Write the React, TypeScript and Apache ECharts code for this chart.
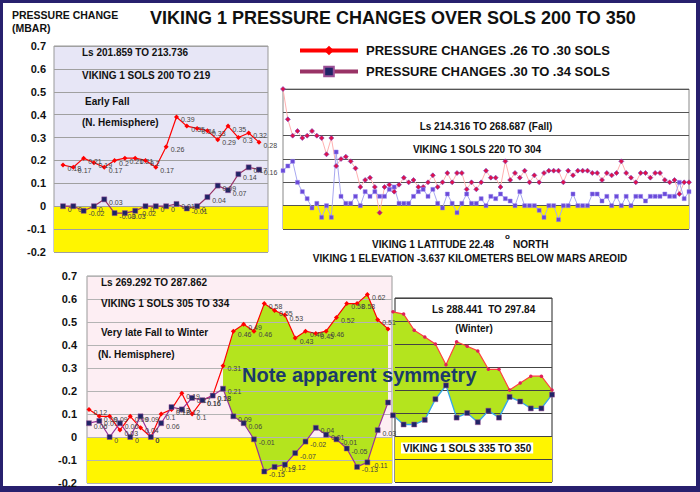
import React, { useEffect, useRef } from 'react';
import * as echarts from 'echarts';

const FONT = "'Liberation Sans', Arial, sans-serif";
const NAME_A = 'PRESSURE CHANGES .26 TO .30 SOLS';
const NAME_B = 'PRESSURE CHANGES .30 TO .34 SOLS';

const sols = (a: number, b: number) => Array.from({ length: b - a + 1 }, (_, i) => String(a + i));

// sols 200-219
const p1Sols = sols(200, 219);
const p1Early = [0.18, 0.17, 0.21, 0.19, 0.17, 0.2, 0.21, 0.21, 0.2, 0.17, 0.26, 0.39, 0.35, 0.34, 0.33, 0.29, 0.35, 0.3, 0.32, 0.28];
const p1Late = [0, 0, -0.02, 0, 0.03, -0.03, -0.03, -0.02, 0, 0, 0, 0.01, -0.01, 0, 0.04, 0.09, 0.07, 0.14, 0.17, 0.16];

// sols 220-304
const p2Sols = sols(220, 304);
const p2Early = [
  0.5, 0.37, 0.3, 0.32, 0.29, 0.3, 0.32, 0.3, 0.29, 0.22,
  0.29, 0.17, 0.2, 0.21, 0.19, 0.16, 0.08, 0.11, 0.12, 0.08,
  -0.03, 0.08, 0.09, 0.06, 0.09, 0.12, 0.1, 0.11, 0.08, 0.08,
  0.1, 0.13, 0.08, 0.1, 0.14, 0.1, 0.14, 0.14, 0.07, 0.1,
  0.07, 0.1, 0.15, 0.12, 0.12, 0.08, 0.19, 0.11, 0.14, 0.12,
  0.15, 0.1, 0.13, 0.1, 0.14, 0.15, 0.15, 0.15, 0.1, 0.15,
  0.13, 0.15, 0.15, 0.15, 0.14, 0.14, 0.11, 0.14, 0.13, 0.14,
  0.19, 0.14, 0.12, 0.1, 0.14, 0.14, 0.12, 0.14, 0.14, 0.11,
  0.1, 0.11, 0.05, 0.1, 0.1,
];
const p2Late = [
  0.15, 0.17, 0.19, 0.1, 0.06, 0.03, -0.01, 0.01, -0.05, 0,
  -0.05, 0.23, 0.04, 0.01, 0.01, 0.04, 0, 0.06, 0.04, 0.06,
  0.04, 0.04, 0.07, 0.08, 0.01, 0.01, 0.01, 0.04, 0.06, 0.07,
  0.04, 0.07, 0.01, -0.01, 0.05, 0.01, -0.03, 0.01, 0.05, 0.01,
  0.01, 0.03, 0, 0.04, 0.03, 0.05, 0.03, 0.02, 0, 0.06,
  0, 0, 0, -0.02, -0.05, 0, 0, -0.06, 0, 0,
  0.05, 0, 0, 0, 0.05, 0.05, 0.02, 0.04, 0, 0.04,
  0, 0.04, 0, 0.04, 0.04, 0.02, 0.04, 0.04, 0.04, 0.05,
  0.04, 0.04, 0.1, 0.03, 0.06,
];

// sols 305-334
const p3Sols = sols(305, 334);
const p3Early = [0.12, 0.09, 0.09, 0.03, 0.09, 0.04, 0, 0.1, 0.12, 0.19, 0.1, 0.16, 0.18, 0.31, 0.46, 0.49, 0.46, 0.58, 0.55, 0.53, 0.43, 0.46, 0.45, 0.46, 0.52, 0.58, 0.58, 0.62, 0.51, 0.47];
const p3Late = [0.06, 0.07, 0, 0.06, 0, 0.09, 0, 0.06, 0.13, 0.12, 0.17, 0.16, 0.18, 0.21, 0.09, 0.06, -0.01, -0.15, -0.13, -0.12, -0.07, -0.02, 0.04, 0.01, -0.01, -0.05, -0.13, -0.11, 0.03, 0.15];
const p3FillFrom = 13;

// sols 335-350
const p4Sols = sols(335, 350);
const p4Early = [0.54, 0.53, 0.46, 0.43, 0.4, 0.31, 0.41, 0.39, 0.37, 0.29, 0.29, 0.2, 0.23, 0.26, 0.26, 0.2];
const p4Late = [0.09, 0.05, 0.05, 0.07, 0.16, 0.22, 0.08, 0.1, 0.06, 0.11, 0.08, 0.17, 0.15, 0.12, 0.12, 0.18];

const YELLOW = '#fff500';
const GREEN = '#b4e41e';

const bgGrid = (left: number, top: number, width: number, height: number, bg: string, border: string) => ({
  left, top, width, height, show: true, backgroundColor: bg, borderColor: border, borderWidth: 1, outerBoundsMode: 'none',
});
const dataGrid = (left: number, top: number, width: number, height: number) => ({
  left, top, width, height, show: false, outerBoundsMode: 'none',
});

const bgX = (gridIndex: number) => ({ type: 'value', gridIndex, min: 0, max: 1, show: false });
const bgY = (gridIndex: number, min: number, max: number, labels: boolean, split: string, margin = 8) => ({
  type: 'value', gridIndex, min, max, interval: 0.1, z: 3,
  axisLine: { show: false }, axisTick: { show: false },
  axisLabel: { show: labels, margin, fontFamily: FONT, fontSize: 11, fontWeight: 'bold', color: '#111' },
  splitLine: { show: true, lineStyle: { color: split, width: 1 } },
});
const dX = (gridIndex: number, data: string[]) => ({ type: 'category', gridIndex, data, boundaryGap: false, show: false });
const dY = (gridIndex: number, min: number, max: number) => ({ type: 'value', gridIndex, min, max, show: false, splitLine: { show: false } });

const yellowZone = (axis: number, min: number) => ({
  type: 'line', xAxisIndex: axis, yAxisIndex: axis, data: [], z: 1, silent: true,
  markArea: { silent: true, itemStyle: { color: YELLOW }, data: [[{ yAxis: min }, { yAxis: 0 }]] },
});

const smallLabel = (hideLast = 0) => ({
  show: true, position: 'right', distance: 2, offset: [0, 3], fontFamily: FONT, fontSize: 7, color: '#444',
  formatter: (p: any) => (hideLast && p.dataIndex === hideLast ? '' : String(p.value)),
});

const fillPair = (axis: number, hi: number[], lo: number[], from: number, key: string) => [
  {
    type: 'line', name: key + 'base', xAxisIndex: axis, yAxisIndex: axis, stack: key, stackStrategy: 'all', z: 2,
    data: lo.map((v, i) => (i < from ? null : v)), symbol: 'none', lineStyle: { opacity: 0 }, silent: true,
  },
  {
    type: 'line', name: key + 'fill', xAxisIndex: axis, yAxisIndex: axis, stack: key, stackStrategy: 'all', z: 2,
    data: hi.map((v, i) => (i < from ? null : +(v - lo[i]).toFixed(3))), symbol: 'none',
    lineStyle: { opacity: 0 }, areaStyle: { color: GREEN, opacity: 1 }, silent: true,
  },
];

const txt = (text: string, x: number, y: number, size = 10, extra: any = {}) => ({
  type: 'text', x, y, z: 100, silent: true,
  style: { text, fontFamily: FONT, fontSize: size, fontWeight: 'bold', fill: '#111', align: 'left', verticalAlign: 'middle', ...extra },
});

const App: React.FC = () => {
  const ref = useRef<HTMLDivElement>(null);

  useEffect(() => {
    if (!ref.current) return;
    const chart = echarts.init(ref.current, undefined, { renderer: 'svg' });
    const option = {
      animation: false,
      legend: {
        data: [NAME_A, NAME_B], orient: 'vertical', left: 293, top: 39, itemWidth: 58, itemHeight: 12, itemGap: 8,
        selectedMode: false, lineStyle: { width: 4 },
        textStyle: { fontFamily: FONT, fontSize: 13, fontWeight: 'bold', color: '#111', padding: [0, 0, 0, 3] },
      },
      grid: [
        bgGrid(54, 46, 214, 206, '#e7e6f6', '#999'),
        dataGrid(63, 46, 196, 206),
        bgGrid(283, 89, 406, 140, '#ffffff', '#888'),
        dataGrid(283, 89, 406, 140),
        bgGrid(87, 276, 305, 207, '#fdeef3', '#999'),
        dataGrid(89, 276, 299, 207),
        bgGrid(395, 298, 157, 184, '#ffffff', '#222'),
        dataGrid(393, 298, 159, 184),
      ],
      xAxis: [bgX(0), dX(1, p1Sols), bgX(2), dX(3, p2Sols), bgX(4), dX(5, p3Sols), bgX(6), dX(7, p4Sols)],
      yAxis: [
        bgY(0, -0.2, 0.7, true, '#a0a0a0'), dY(1, -0.2, 0.7),
        bgY(2, -0.1, 0.5, false, '#555'), dY(3, -0.1, 0.5),
        bgY(4, -0.2, 0.7, true, '#b4b4b4', 10), dY(5, -0.2, 0.7),
        bgY(6, -0.2, 0.6, false, '#444'), dY(7, -0.2, 0.6),
      ],
      series: [
        // panel 1
        yellowZone(0, -0.2),
        {
          type: 'line', name: NAME_A, xAxisIndex: 1, yAxisIndex: 1, data: p1Early, z: 5, showAllSymbol: true,
          symbol: 'diamond', symbolSize: 5, itemStyle: { color: '#ff0000' }, lineStyle: { color: '#ff0000', width: 1.2 }, label: smallLabel(),
        },
        {
          type: 'line', name: NAME_B, xAxisIndex: 1, yAxisIndex: 1, data: p1Late, z: 5, showAllSymbol: true,
          symbol: 'rect', symbolSize: 5, itemStyle: { color: '#1f2466', borderColor: '#9b4f96', borderWidth: 0.5 },
          lineStyle: { color: '#993366', width: 1.2 }, label: smallLabel(),
        },
        // panel 2
        yellowZone(2, -0.1),
        {
          type: 'line', name: NAME_A, xAxisIndex: 3, yAxisIndex: 3, data: p2Early, z: 5, showAllSymbol: true,
          symbol: 'diamond', symbolSize: 5, itemStyle: { color: '#e0104a', borderColor: '#7040c0', borderWidth: 0.6 },
          lineStyle: { color: '#ffb0b0', width: 1 },
        },
        {
          type: 'line', name: NAME_B, xAxisIndex: 3, yAxisIndex: 3, data: p2Late, z: 5, showAllSymbol: true,
          symbol: 'rect', symbolSize: 4, itemStyle: { color: '#6a4ad8', borderColor: '#9a88f0', borderWidth: 0.5 },
          lineStyle: { color: '#a8a8f0', width: 1 },
        },
        // panel 3
        yellowZone(4, -0.2),
        ...fillPair(5, p3Early, p3Late, p3FillFrom, 'p3'),
        {
          type: 'line', name: NAME_A, xAxisIndex: 5, yAxisIndex: 5, data: p3Early, z: 5, showAllSymbol: true,
          symbol: 'diamond', symbolSize: 5, itemStyle: { color: '#ff0000' }, lineStyle: { color: '#ff0000', width: 1.2 },
          label: smallLabel(p3Early.length - 1),
        },
        {
          type: 'line', name: NAME_B, xAxisIndex: 5, yAxisIndex: 5, data: p3Late, z: 5, showAllSymbol: true,
          symbol: 'rect', symbolSize: 5, itemStyle: { color: '#1f2466', borderColor: '#9b4f96', borderWidth: 0.5 },
          lineStyle: { color: '#993399', width: 1.2 }, label: smallLabel(p3Late.length - 1),
        },
        // panel 4
        yellowZone(6, -0.2),
        ...fillPair(7, p4Early, p4Late, 0, 'p4'),
        {
          type: 'line', name: NAME_A, xAxisIndex: 7, yAxisIndex: 7, data: p4Early, z: 5, showAllSymbol: true,
          symbol: 'circle', symbolSize: 3.5, itemStyle: { color: '#e0205a' }, lineStyle: { color: '#ff4040', width: 1.2 },
        },
        {
          type: 'line', name: NAME_B, xAxisIndex: 7, yAxisIndex: 7, data: p4Late, z: 5, showAllSymbol: true,
          symbol: 'rect', symbolSize: 5, itemStyle: { color: '#1f2466', borderColor: '#a05090', borderWidth: 0.5 },
          lineStyle: { color: '#38a8e8', width: 1.4 },
        },
      ],
      graphic: [
        txt('PRESSURE CHANGE', 12, 15, 10.5),
        txt('(MBAR)', 12, 28, 10.5),
        txt('VIKING 1 PRESSURE CHANGES OVER SOLS 200 TO 350', 150, 18, 18),
        txt('Ls 201.859 TO 213.736', 82, 52),
        txt('VIKING 1 SOLS 200 TO 219', 82, 75),
        txt('Early Fall', 85, 101),
        txt('(N. Hemisphere)', 82, 122),
        txt('Ls 214.316 TO 268.687 (Fall)', 486, 126, 10, { align: 'center' }),
        txt('VIKING 1 SOLS 220 TO 304', 477, 149, 10, { align: 'center' }),
        txt('VIKING 1 LATITUDE 22.48', 372, 244),
        txt('o', 505, 236, 8),
        txt('NORTH', 513, 244),
        txt('VIKING 1 ELEVATION -3.637 KILOMETERS BELOW MARS AREOID', 470, 258, 10, { align: 'center' }),
        txt('Ls 269.292 TO 287.862', 101, 282),
        txt('VIKING 1 SOLS 305 TO 334', 101, 303),
        txt('Very late Fall to Winter', 101, 332),
        txt('(N. Hemisphere)', 98, 354),
        txt('Ls 288.441  TO 297.84', 432, 309),
        txt('(Winter)', 474, 328, 10, { align: 'center' }),
        txt('VIKING 1 SOLS 335 TO 350', 401, 448, 10, { backgroundColor: '#ffffff', padding: [1, 2, 0, 2] }),
        txt('Note apparent symmetry', 242, 375, 20, { fill: '#1b3a6b' }),
      ],
    };
    chart.setOption(option as any);
    return () => {
      chart.dispose();
    };
  }, []);

  return (
    <div style={{ position: 'fixed', left: 0, top: 0, width: 700, height: 492, background: '#28206e' }}>
      <div style={{ position: 'absolute', left: 3, top: 3, width: 693, height: 483, background: '#ffffff' }} />
      <div ref={ref} style={{ position: 'absolute', left: 0, top: 0, width: 700, height: 492 }} />
    </div>
  );
};

export default App;
